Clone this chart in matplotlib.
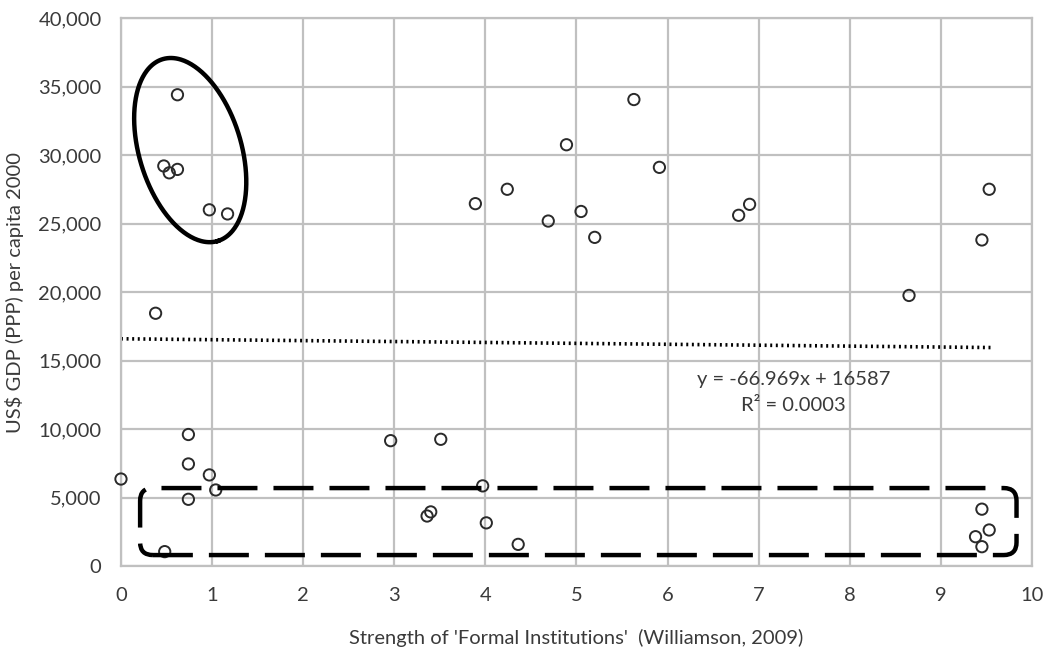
import numpy as np
import matplotlib.pyplot as plt
from matplotlib.patches import FancyBboxPatch
from matplotlib.ticker import FuncFormatter

plt.rcParams['font.family'] = ['Lato', 'DejaVu Sans']

# ================= data =================
institutions = [0.00, 0.38, 0.74, 0.74, 0.97, 1.04, 0.74, 0.48,
                0.62, 0.47, 0.53, 0.62, 0.97, 1.17,
                3.89, 4.24, 4.89, 5.63, 4.69, 5.05, 5.20, 5.91, 6.78, 6.90,
                9.53, 9.45, 8.65,
                2.96, 3.51, 3.97, 3.36, 3.40, 4.01, 4.36,
                9.45, 9.53, 9.38, 9.45]
gdp = [6350, 18450, 9600, 7450, 6650, 5550, 4870, 1050,
       34400, 29200, 28700, 28950, 26000, 25700,
       26450, 27500, 30750, 34050, 25180, 25880, 23990, 29100, 25600, 26400,
       27500, 23800, 19750,
       9150, 9250, 5850, 3650, 3950, 3150, 1580,
       4150, 2630, 2140, 1410]

slope, intercept, r2 = -66.969, 16587, 0.0003
x_ticks = list(range(0, 11))
y_ticks = list(range(0, 40001, 5000))

# ================= figure =================
fig = plt.figure(figsize=(10.52, 6.53), dpi=100)
ax = fig.add_axes([0.115, 0.1332, 0.866, 0.8392])

ax.set_xlim(0, 10)
ax.set_ylim(0, 40000)
ax.set_xticks(x_ticks)
ax.set_yticks(y_ticks)
ax.yaxis.set_major_formatter(FuncFormatter(lambda v, p: f'{int(v):,}'))
ax.tick_params(length=0, labelsize=14.5, colors='#3a3a3a')
ax.tick_params(axis='y', pad=14)
ax.tick_params(axis='x', pad=15)
ax.grid(True, color='#c0c0c0', lw=1.6)
ax.set_axisbelow(True)
for s in ax.spines.values():
    s.set_color('#c0c0c0')
    s.set_linewidth(1.6)

ax.scatter(institutions, gdp, s=66, facecolors='none', edgecolors='#2a2a2a',
           linewidths=1.4, zorder=3, clip_on=False)

# linear trend line (dotted)
xt = np.array([0, 9.55])
ax.plot(xt, slope * xt + intercept, color='black', lw=2.6,
        linestyle=(0, (0.55, 1.0)), zorder=2)
ax.text(7.38, 13600, f'y = {slope}x + {intercept}', ha='center', va='center',
        fontsize=14.5, color='#3a3a3a')
ax.text(7.38, 11700, f'R² = {r2:.4f}', ha='center', va='center',
        fontsize=14.5, color='#3a3a3a')

# annotation: ellipse around high-GDP / low-institution cluster
sx, sy = 91.1, 548 / 40000          # pixels per data unit
cx, cy = 0.76, 30360
a_px, b_px = 95, 51
ang = np.arctan2(55, 181)
u = np.array([np.sin(ang), np.cos(ang)])
v = np.array([np.cos(ang), -np.sin(ang)])
t = np.linspace(0, 2 * np.pi, 300)
px = a_px * np.cos(t)[:, None] * u + b_px * np.sin(t)[:, None] * v
ax.plot(cx + px[:, 0] / sx, cy - px[:, 1] / sy, color='black', lw=3.2,
        zorder=4, clip_on=False)

# annotation: dashed rounded box around low-GDP countries
box = FancyBboxPatch((0.21, 800), 9.62, 4890,
                     boxstyle='round,pad=0,rounding_size=0.14',
                     mutation_aspect=sx / sy, fill=False, ec='black', lw=3.2,
                     linestyle=(0, (9, 3.6)), zorder=4)
ax.add_patch(box)

ax.set_xlabel("Strength of 'Formal Institutions'  (Williamson, 2009)",
              fontsize=14.5, color='#3a3a3a', labelpad=18)
ax.set_ylabel('US$ GDP (PPP) per capita 2000', fontsize=14.5,
              color='#3a3a3a', labelpad=10)

plt.savefig('out.png', dpi=100)
